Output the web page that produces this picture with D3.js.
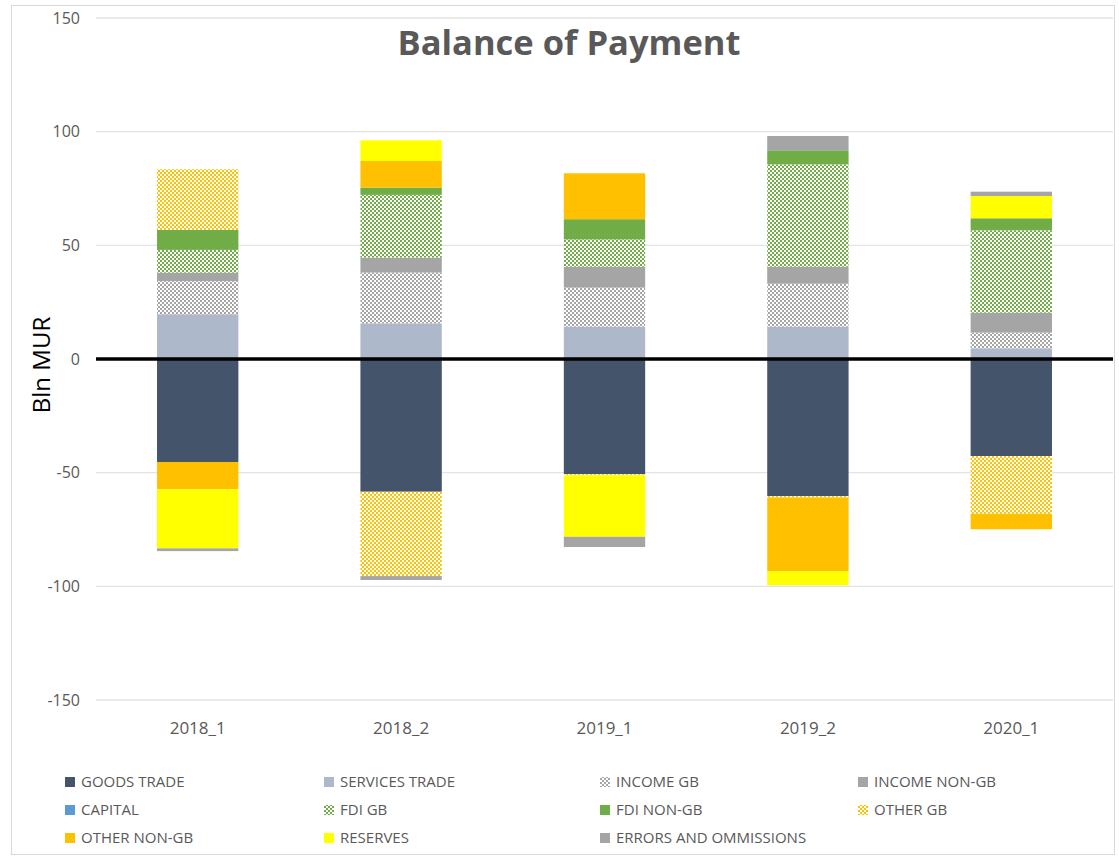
<!DOCTYPE html>
<html>
<head>
<meta charset="utf-8">
<script src="https://cdn.jsdelivr.net/npm/d3@7"></script>
<style>
  body { margin: 0; background: #fff; }
  text { font-family: "Open Sans", "Noto Sans", sans-serif; }
</style>
</head>
<body>
<div id="chart"></div>
<script>
// categories
const periods = ["2018_1", "2018_2", "2019_1", "2019_2", "2020_1"];

// series values (Bln MUR), one per period
const goodsTrade    = [-45.3, -58.4, -50.7, -60.3, -42.7];
const servicesTrade = [19.7, 15.7, 14.2, 14.2, 4.7];
const incomeGB      = [14.6, 22.3, 17.2, 18.9, 6.9];
const incomeNonGB   = [3.7, 6.6, 9.2, 7.5, 8.8];
const capital       = [0, 0, 0, 0, 0];
const fdiGB         = [10.0, 27.6, 12.0, 45.0, 36.2];
const fdiNonGB      = [8.8, 3.2, 8.9, 6.2, 5.3];
const otherGB       = [26.7, -37.1, -0.4, -0.6, -25.4];
const otherNonGB    = [-12.0, 11.7, 20.2, -32.5, -6.8];
const reserves      = [-26.0, 9.1, -27.1, -6.1, 9.8];
const errorsOmm     = [-1.2, -1.7, -4.5, 6.3, 1.9];

const yTicks = [-150, -100, -50, 0, 50, 100, 150];

const seriesDefs = [
    { key: "GOODS TRADE", values: goodsTrade, color: "#44546A" },
    { key: "SERVICES TRADE", values: servicesTrade, color: "#ADB9CA" },
    { key: "INCOME GB", values: incomeGB, color: "#A5A5A5", pattern: true },
    { key: "INCOME NON-GB", values: incomeNonGB, color: "#A5A5A5" },
    { key: "CAPITAL", values: capital, color: "#5B9BD5" },
    { key: "FDI GB", values: fdiGB, color: "#70AD47", pattern: true },
    { key: "FDI NON-GB", values: fdiNonGB, color: "#70AD47" },
    { key: "OTHER GB", values: otherGB, color: "#FFC000", pattern: true },
    { key: "OTHER NON-GB", values: otherNonGB, color: "#FFC000" },
    { key: "RESERVES", values: reserves, color: "#FFFF00" },
    { key: "ERRORS AND OMMISSIONS", values: errorsOmm, color: "#A5A5A5" }
];

const width = 1119, height = 858;
const margin = { left: 96, right: 6, top: 18, bottom: 158 };

const svg = d3.select("#chart").append("svg")
    .attr("width", width)
    .attr("height", height);

// checker patterns
const defs = svg.append("defs");
seriesDefs.forEach((s, i) => {
    if (!s.pattern) return;
    s.patId = "pat" + i;
    const p = defs.append("pattern")
        .attr("id", s.patId)
        .attr("patternUnits", "userSpaceOnUse")
        .attr("width", 4).attr("height", 4);
    p.append("rect").attr("width", 4).attr("height", 4).attr("fill", "#fff");
    p.append("rect").attr("width", 2).attr("height", 2).attr("fill", s.color);
    p.append("rect").attr("x", 2).attr("y", 2).attr("width", 2).attr("height", 2).attr("fill", s.color);
});
const fillOf = s => s.pattern ? `url(#${s.patId})` : s.color;

// chart border
svg.append("rect")
    .attr("x", 11.5).attr("y", 5.5)
    .attr("width", 1103).attr("height", 849)
    .attr("fill", "none")
    .attr("stroke", "#D9D9D9");

const table = periods.map((p, i) => {
    const row = { period: p };
    seriesDefs.forEach(s => row[s.key] = s.values[i]);
    return row;
});

const x = d3.scaleBand()
    .domain(periods)
    .range([margin.left, width - margin.right])
    .paddingInner(0.6)
    .paddingOuter(0.3);

const y = d3.scaleLinear()
    .domain([-150, 150])
    .range([700, 18]);

// gridlines
svg.append("g")
    .selectAll("line")
    .data(yTicks)
    .join("line")
    .attr("x1", margin.left).attr("x2", width - margin.right)
    .attr("y1", d => y(d)).attr("y2", d => y(d))
    .attr("stroke", "#E3E3E3")
    .attr("stroke-width", 1.3);

// y axis labels (plain hyphen for negatives, like the original)
const yAxis = svg.append("g")
    .attr("transform", `translate(${margin.left - 16},0)`)
    .call(d3.axisLeft(y).tickValues(yTicks).tickSize(0).tickPadding(0)
        .tickFormat(d => String(d)));
yAxis.select(".domain").remove();
yAxis.selectAll("text")
    .attr("fill", "#595959")
    .style("font-size", "16px");

// bars
const stack = d3.stack()
    .keys(seriesDefs.map(s => s.key))
    .offset(d3.stackOffsetDiverging);
const stacked = stack(table);

svg.append("g")
    .selectAll("g")
    .data(stacked)
    .join("g")
    .attr("fill", (d, i) => fillOf(seriesDefs[i]))
    .selectAll("rect")
    .data(d => d)
    .join("rect")
    .attr("x", d => x(d.data.period))
    .attr("width", x.bandwidth())
    .attr("y", d => y(Math.max(d[0], d[1])))
    .attr("height", d => Math.abs(y(d[0]) - y(d[1])));

// zero line
svg.append("line")
    .attr("x1", margin.left).attr("x2", width - margin.right)
    .attr("y1", y(0)).attr("y2", y(0))
    .attr("stroke", "#000")
    .attr("stroke-width", 3.5);

// category labels
svg.append("g")
    .selectAll("text")
    .data(periods)
    .join("text")
    .attr("x", d => x(d) + x.bandwidth() / 2)
    .attr("y", 734)
    .attr("text-anchor", "middle")
    .attr("fill", "#595959")
    .style("font-size", "17px")
    .text(d => d);

// y axis title
svg.append("text")
    .attr("transform", `translate(50,365) rotate(-90)`)
    .attr("text-anchor", "middle")
    .attr("fill", "#000")
    .style("font-size", "24px")
    .text("Bln MUR");

// chart title
svg.append("text")
    .attr("x", 569).attr("y", 55)
    .attr("text-anchor", "middle")
    .attr("fill", "#595959")
    .style("font-size", "34.5px")
    .style("font-weight", "bold")
    .text("Balance of Payment");

// legend: 4 columns, filled row by row
const legendCols = [65, 324, 600, 858];
const legendRows = [782, 810, 838];
const legend = svg.append("g")
    .selectAll("g")
    .data(seriesDefs)
    .join("g")
    .attr("transform", (d, i) => `translate(${legendCols[i % 4]},${legendRows[Math.floor(i / 4)]})`);
legend.append("rect")
    .attr("x", 0).attr("y", -5)
    .attr("width", 10).attr("height", 10)
    .attr("fill", d => fillOf(d));
legend.append("text")
    .attr("x", 16).attr("y", 0)
    .attr("dy", "0.35em")
    .attr("fill", "#595959")
    .style("font-size", "15px")
    .text(d => d.key);
</script>
</body>
</html>
